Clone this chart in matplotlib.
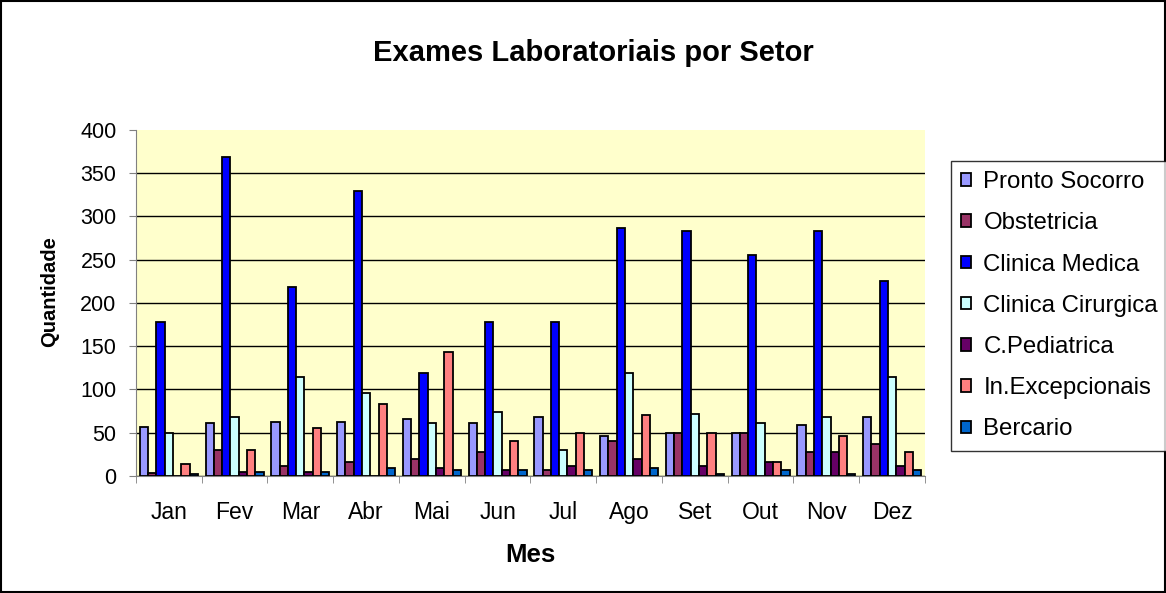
import matplotlib.pyplot as plt
import numpy as np

plt.rcParams['font.family'] = ['Liberation Sans', 'DejaVu Sans']

meses = ['Jan', 'Fev', 'Mar', 'Abr', 'Mai', 'Jun', 'Jul', 'Ago', 'Set', 'Out', 'Nov', 'Dez']
setores = ['Pronto Socorro', 'Obstetricia', 'Clinica Medica', 'Clinica Cirurgica',
           'C.Pediatrica', 'In.Excepcionais', 'Bercario']
cores = ['#9999FF', '#993366', '#0000FF', '#CCFFFF', '#660066', '#FF8080', '#0066CC']

pronto_socorro = [57, 61, 63, 63, 66, 61, 68, 46, 50, 50, 59, 68]
obstetricia = [4, 30, 11, 16, 20, 28, 7, 41, 50, 50, 28, 37]
clinica_medica = [178, 369, 218, 330, 119, 178, 178, 287, 283, 256, 283, 225]
clinica_cirurgica = [50, 68, 114, 96, 61, 74, 30, 119, 72, 61, 68, 114]
c_pediatrica = [0, 5, 5, 0, 9, 7, 11, 20, 11, 16, 28, 11]
in_excepcionais = [14, 30, 55, 83, 143, 41, 50, 70, 50, 16, 46, 28]
bercario = [2, 5, 5, 9, 7, 7, 7, 9, 2, 7, 2, 7]

series = [pronto_socorro, obstetricia, clinica_medica, clinica_cirurgica,
          c_pediatrica, in_excepcionais, bercario]

fig = plt.figure(figsize=(11.66, 5.93), dpi=100)
ax = fig.add_axes([0.1166, 0.1973, 0.6767, 0.5835])
ax.set_facecolor('#FFFFCC')

x = np.arange(len(meses))
w = 0.126
handles = []
for i, (nome, vals, cor) in enumerate(zip(setores, series, cores)):
    b = ax.bar(x + (i - 3) * w, vals, w, color=cor, edgecolor='black', linewidth=1.3,
               label=nome, zorder=3)
    handles.append(b)

ax.set_xlim(-0.5, len(meses) - 0.5)
ax.set_ylim(0, 400)
ax.set_yticks(range(0, 401, 50))
ax.yaxis.grid(True, color='black', linewidth=1, zorder=0)
ax.yaxis.get_gridlines()[-1].set_visible(False)  # no line on top of the plot area
ax.set_xticks(x)
ax.set_xticklabels(meses)
ax.set_xticks(np.arange(-0.5, len(meses)), minor=True)
ax.tick_params(axis='x', which='major', length=0, labelsize=16.5, pad=18)
ax.tick_params(axis='x', which='minor', length=5, color='#808080')
ax.tick_params(axis='y', labelsize=15.5, length=5, pad=9, color='#808080')
for s in ['top', 'right']:
    ax.spines[s].set_visible(False)
ax.spines['left'].set_color('#808080')
ax.spines['bottom'].set_color('#808080')

ax.set_ylabel('Quantidade', fontsize=14.5, fontweight='bold')
ax.yaxis.set_label_coords(-0.098, 0.532)
ax.set_xlabel('Mes', fontsize=18.5, fontweight='bold', labelpad=14)
fig.text(0.5086, 0.9106, 'Exames Laboratoriais por Setor', fontsize=21, fontweight='bold',
         ha='center', va='center')

leg = fig.legend(handles=handles, loc='upper left', bbox_to_anchor=(0.8156, 0.7285),
                 borderaxespad=0, fontsize=17.3, frameon=True, fancybox=False,
                 edgecolor='black', handlelength=0.43, handleheight=0.43,
                 handletextpad=0.5, labelspacing=0.8, borderpad=0.42)
leg.get_frame().set_linewidth(1)

border = plt.Rectangle((0.001, 0.001), 0.998, 0.998, transform=fig.transFigure,
                       fill=False, edgecolor='black', linewidth=1.5)
fig.patches.append(border)

fig.savefig('out.png', dpi=100)
